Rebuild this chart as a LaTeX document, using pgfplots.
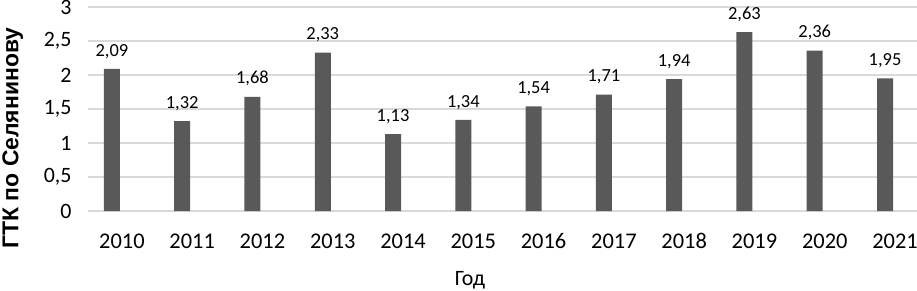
\documentclass[border=0pt]{standalone}
\usepackage{pgfplots}
\pgfplotsset{compat=1.18}
\usepackage{fontspec}
\setmainfont{Carlito}
\newfontfamily\arialfont{Liberation Sans}
\definecolor{barc}{HTML}{595959}
\definecolor{gridc}{HTML}{D9D9D9}
\begin{document}
\begin{tikzpicture}
\begin{axis}[name=ax, scale only axis, width=829bp, height=204bp,
  xmin=-0.34, xmax=11.455, ymin=0, ymax=3,
  ytick={0,0.5,1,1.5,2,2.5,3},
  xtick={0,1,2,3,4,5,6,7,8,9,10,11},
  xticklabels={2010,2011,2012,2013,2014,2015,2016,2017,2018,2019,2020,2021},
  axis line style={draw=none}, major tick length=0pt,
  ymajorgrids, grid style={gridc, line width=1.2bp},
  /pgf/number format/assume math mode=true, /pgf/number format/use comma,
  yticklabel style={font=\fontsize{22}{22}\selectfont, xshift=-13bp},
  xticklabel style={font=\fontsize{22.5}{22.5}\selectfont, xshift=10bp, yshift=-19bp},
  clip=false,
]
\addplot[ybar, bar width=16bp, fill=barc, draw=none,
  nodes near coords={\pgfmathprintnumber[fixed,fixed zerofill,precision=2,use comma,assume math mode=true]{\pgfplotspointmeta}},
  every node near coord/.append style={font=\fontsize{18.5}{18.5}\selectfont, black, yshift=7bp}]
coordinates {(0,2.09) (1,1.32) (2,1.68) (3,2.33) (4,1.13) (5,1.34) (6,1.54) (7,1.71) (8,1.94) (9,2.63) (10,2.36) (11,1.95)};
\end{axis}
\node[rotate=90, anchor=base, font=\arialfont\bfseries\fontsize{23}{23}\selectfont] at ([xshift=-69.5bp,yshift=73bp]ax.south west) {ГТК по Селянинову};
\node[anchor=base, font=\fontsize{22}{22}\selectfont] at ([xshift=382bp,yshift=-74.5bp]ax.south west) {Год};
\pgfresetboundingbox
\path[use as bounding box] ([xshift=-88bp,yshift=-80bp]ax.south west) rectangle ++(917bp,291bp);
\end{tikzpicture}
\end{document}
